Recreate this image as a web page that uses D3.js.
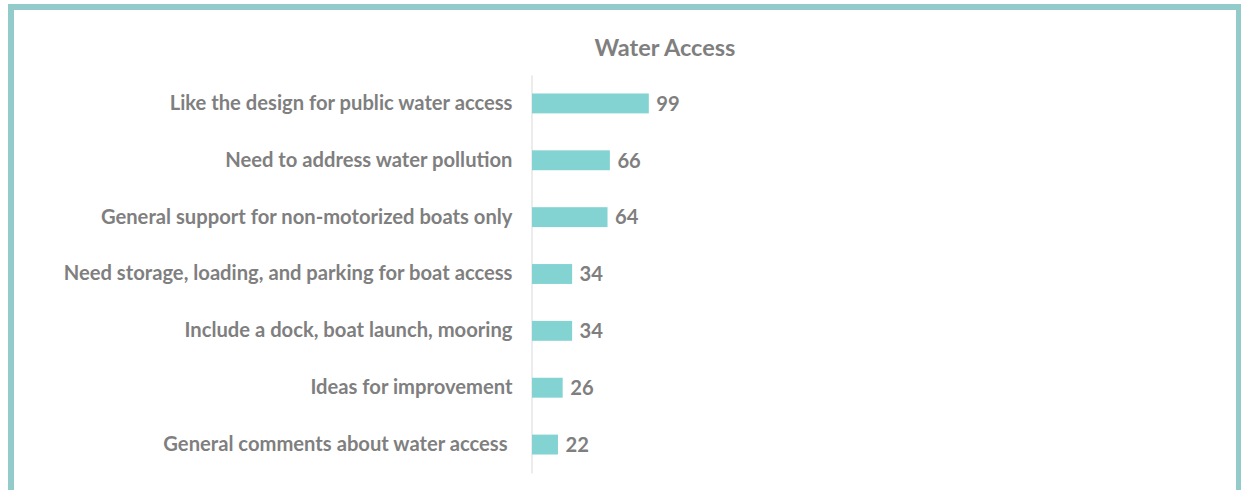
<!DOCTYPE html>
<html>
<head>
<meta charset="utf-8">
<script src="https://cdn.jsdelivr.net/npm/d3@7"></script>
<style>
  body { margin: 0; background: #fff; }
  svg { display: block; }
</style>
</head>
<body>
<div id="chart"></div>
<script>
// values
const categories = [
  "Like the design for public water access",
  "Need to address water pollution",
  "General support for non-motorized boats only",
  "Need storage, loading, and parking for boat access",
  "Include a dock, boat launch, mooring",
  "Ideas for improvement",
  "General comments about water access "
];
const counts = [99, 66, 64, 34, 34, 26, 22];
const title = "Water Access";

const width = 1241, height = 490;
const font = "Lato, 'Open Sans', sans-serif";
const grey = "#7f7f7f";

var svg = d3.select('#chart')
    .append('svg')
    .attr('width', width)
    .attr('height', height);

// teal frame round the chart
svg.append('rect')
  .attr('x', 11).attr('y', 7)
  .attr('width', 1228).attr('height', 500)
  .attr('fill', 'none')
  .attr('stroke', '#93caca')
  .attr('stroke-width', 6);

var x = d3.scaleLinear()
  .domain([0, 100])
  .range([531.5, 649.5]);

var y = d3.scaleBand()
  .domain(categories)
  .range([75, 473])
  .paddingInner(0.65)
  .paddingOuter(0.325);

svg.append('text')
  .attr('x', 665).attr('y', 56)
  .attr('text-anchor', 'middle')
  .attr('font-family', font)
  .attr('font-weight', 'bold')
  .attr('font-size', 23.5)
  .attr('fill', grey)
  .text(title);

var yAxis = svg.append('g')
  .attr('transform', 'translate(531.5,0)')
  .call(d3.axisLeft(y).tickSize(0).tickPadding(19));

yAxis.select('.domain').attr('stroke', '#d9d9d9');
yAxis.selectAll('text')
  .attr('font-family', font)
  .attr('font-weight', 'bold')
  .attr('font-size', 20.2)
  .attr('fill', grey)
  .style('white-space', 'pre');   // keep the trailing space of the last label

svg.selectAll('rect.bar')
  .data(counts)
  .enter()
  .append('rect')
  .attr('class', 'bar')
  .attr('x', x(0) + 0.5)
  .attr('y', (d, i) => y(categories[i]))
  .attr('width', d => x(d) - x(0))
  .attr('height', y.bandwidth())
  .attr('fill', '#84d3d3');

svg.selectAll('text.val')
  .data(counts)
  .enter()
  .append('text')
  .attr('class', 'val')
  .attr('x', d => x(d) + 8)
  .attr('y', (d, i) => y(categories[i]) + y.bandwidth() / 2)
  .attr('dy', '0.36em')
  .attr('font-family', font)
  .attr('font-weight', 'bold')
  .attr('font-size', 20.2)
  .attr('fill', grey)
  .text(d => d);
</script>
</body>
</html>
